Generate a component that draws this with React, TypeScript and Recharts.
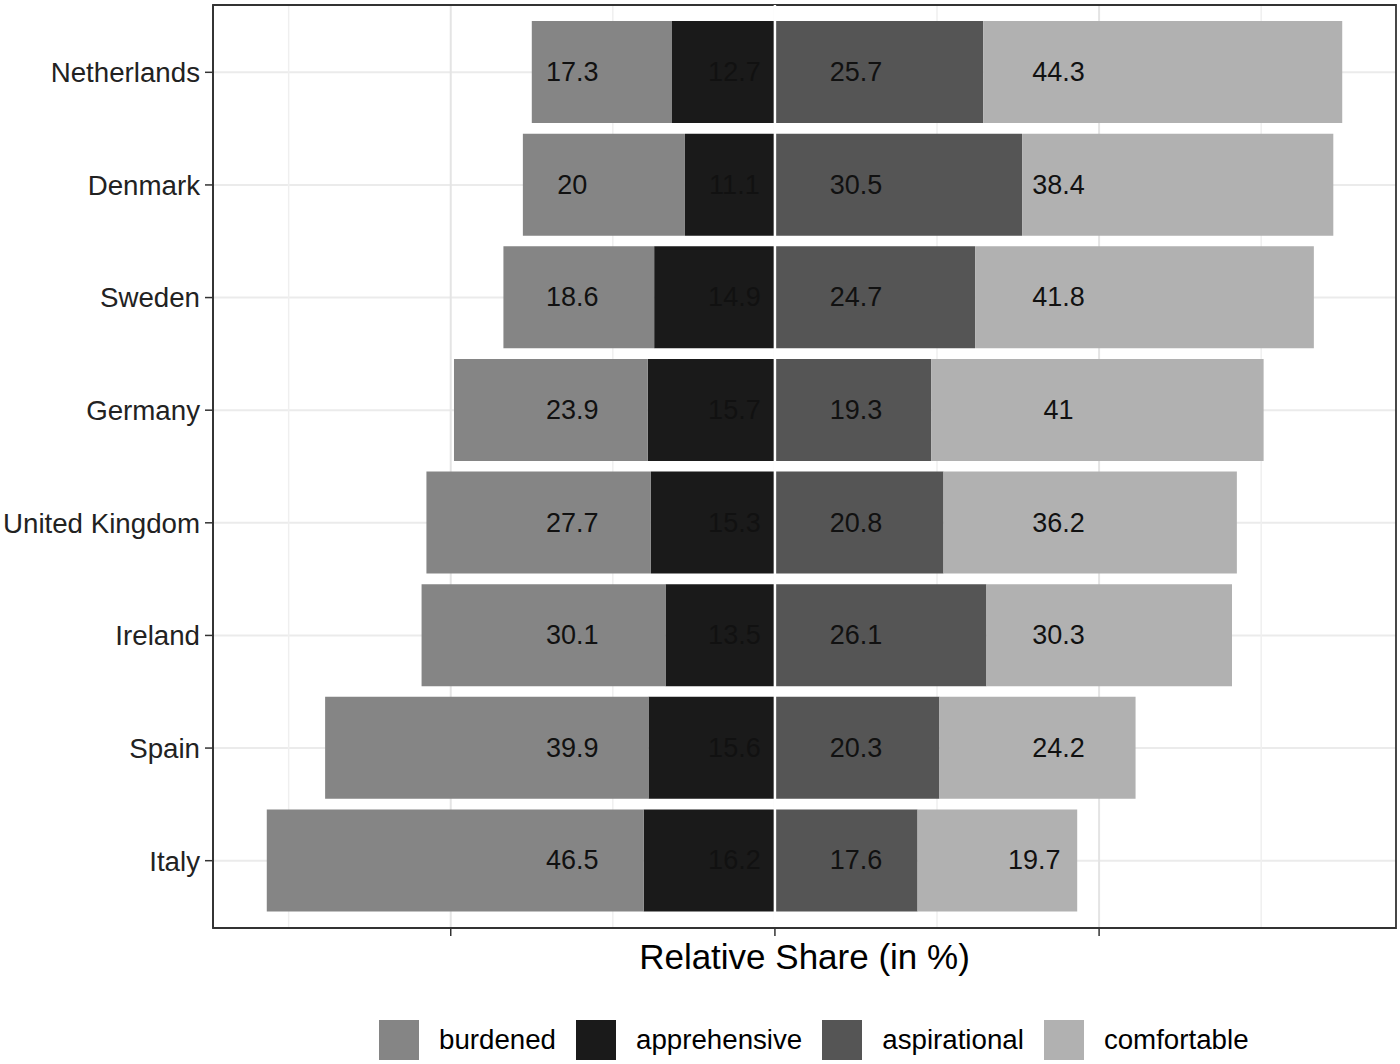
import React from 'react';
import { BarChart, Bar, XAxis, YAxis, CartesianGrid, ReferenceLine, ReferenceArea, LabelList, Legend } from 'recharts';

const countries = ['Netherlands', 'Denmark', 'Sweden', 'Germany', 'United Kingdom', 'Ireland', 'Spain', 'Italy'];
const burdened = [17.3, 20, 18.6, 23.9, 27.7, 30.1, 39.9, 46.5];
const apprehensive = [12.7, 11.1, 14.9, 15.7, 15.3, 13.5, 15.6, 16.2];
const aspirational = [25.7, 30.5, 24.7, 19.3, 20.8, 26.1, 20.3, 17.6];
const comfortable = [44.3, 38.4, 41.8, 41, 36.2, 30.3, 24.2, 19.7];

// where each value label sits, in axis units
const burdenedLabelAt = [-25, -25, -25, -25, -25, -25, -25, -25];
const apprehensiveLabelAt = [-5, -5, -5, -5, -5, -5, -5, -5];
const aspirationalLabelAt = [10, 10, 10, 10, 10, 10, 10, 10];
const comfortableLabelAt = [35, 35, 35, 35, 35, 35, 35, 32];

const majorTicks = [-40, 0, 40];
const minorTicks = [-60, -20, 20, 60];
const xDomain = [-69.335, 76.635];

const legendItems = [
  { name: 'burdened', color: '#858585' },
  { name: 'apprehensive', color: '#1a1a1a' },
  { name: 'aspirational', color: '#555555' },
  { name: 'comfortable', color: '#b1b1b1' },
];

const FONT = '"Liberation Sans", Arial, Helvetica, sans-serif';
const BORDER = '#333';

const rows = countries.map((country, i) => ({
  country,
  burdened: -burdened[i],
  apprehensive: -apprehensive[i],
  aspirational: aspirational[i],
  comfortable: comfortable[i],
}));

// data range [lo, hi] of each segment, used to place labels through the bar's own geometry
const ranges: Record<string, (i: number) => [number, number]> = {
  apprehensive: (i) => [-apprehensive[i], 0],
  burdened: (i) => [-(apprehensive[i] + burdened[i]), -apprehensive[i]],
  aspirational: (i) => [0, aspirational[i]],
  comfortable: (i) => [aspirational[i], aspirational[i] + comfortable[i]],
};

const makeLabel = (key: string, values: number[], positions: number[]) => (props: any) => {
  const vb = props.viewBox && props.viewBox.width !== undefined ? props.viewBox : props;
  const { x, y, width, height } = vb;
  const index = props.index;
  if (index === undefined || x === undefined) return null;
  const [lo, hi] = ranges[key](index);
  const px0 = Math.min(x, x + width);
  const px1 = Math.max(x, x + width);
  const ppu = (px1 - px0) / (hi - lo);
  const cx = px0 + (positions[index] - lo) * ppu;
  return (
    <text
      x={cx}
      y={y + height / 2}
      textAnchor="middle"
      dominantBaseline="central"
      fontSize={27}
      fontFamily={FONT}
      fill="#111"
    >
      {values[index]}
    </text>
  );
};

function LegendBox() {
  return (
    <div style={{ height: 60, display: 'flex', alignItems: 'flex-start', paddingLeft: 379, paddingTop: 16, boxSizing: 'border-box', fontFamily: FONT }}>
      {legendItems.map((item) => (
        <div key={item.name} style={{ display: 'flex', alignItems: 'center', marginRight: 20 }}>
          <div style={{ width: 40, height: 40, background: item.color, marginRight: 20 }} />
          <span style={{ fontSize: 27.7, color: '#000' }}>{item.name}</span>
        </div>
      ))}
    </div>
  );
}

export default function App() {
  return (
    <div style={{ position: 'absolute', left: 0, top: 0, width: 1400, height: 1064, background: '#fff' }}>
      <BarChart
        width={1400}
        height={1064}
        data={rows}
        layout="vertical"
        stackOffset="sign"
        margin={{ top: 5, right: 4, bottom: 0, left: 0 }}
        barSize={102}
      >
        <CartesianGrid vertical={false} stroke="#ebebeb" strokeWidth={2} />
        <CartesianGrid horizontal={false} verticalValues={minorTicks} stroke="#efefef" strokeWidth={1.5} />
        <CartesianGrid horizontal={false} verticalValues={majorTicks} stroke="#e4e4e4" strokeWidth={2} />
        <XAxis
          type="number"
          domain={xDomain}
          ticks={majorTicks}
          allowDataOverflow
          height={76}
          tickSize={8}
          tickLine={{ stroke: BORDER, strokeWidth: 1.5 }}
          axisLine={{ stroke: BORDER, strokeWidth: 1.8 }}
          tickFormatter={() => ''}
          label={{ value: 'Relative Share (in %)', position: 'insideTop', offset: 16, fontSize: 35, fontFamily: FONT, fill: '#000' }}
        />
        <YAxis
          type="category"
          dataKey="country"
          width={213}
          padding={{ top: 11, bottom: 11 }}
          tickSize={8}
          tickMargin={5}
          tickLine={{ stroke: BORDER, strokeWidth: 1.5 }}
          axisLine={{ stroke: BORDER, strokeWidth: 1.8 }}
          tick={{ fontSize: 27.7, fontFamily: FONT, fill: '#222' }}
        />
        <YAxis yAxisId="panel" orientation="right" type="category" dataKey="country" width={0} hide />
        <Bar dataKey="apprehensive" stackId="s" fill="#1a1a1a" isAnimationActive={false}>
          <LabelList dataKey="apprehensive" content={makeLabel('apprehensive', apprehensive, apprehensiveLabelAt)} />
        </Bar>
        <Bar dataKey="burdened" stackId="s" fill="#858585" isAnimationActive={false}>
          <LabelList dataKey="burdened" content={makeLabel('burdened', burdened, burdenedLabelAt)} />
        </Bar>
        <Bar dataKey="aspirational" stackId="s" fill="#555555" isAnimationActive={false}>
          <LabelList dataKey="aspirational" content={makeLabel('aspirational', aspirational, aspirationalLabelAt)} />
        </Bar>
        <Bar dataKey="comfortable" stackId="s" fill="#b1b1b1" isAnimationActive={false}>
          <LabelList dataKey="comfortable" content={makeLabel('comfortable', comfortable, comfortableLabelAt)} />
        </Bar>
        <ReferenceLine x={0} stroke="#fff" strokeWidth={2.5} />
        <ReferenceArea
          yAxisId="panel"
          x1={xDomain[0]}
          x2={xDomain[1]}
          fill="none"
          stroke={BORDER}
          strokeWidth={1.8}
          ifOverflow="visible"
        />
        <Legend verticalAlign="bottom" content={() => <LegendBox />} wrapperStyle={{ left: 0, width: 1400 }} />
      </BarChart>
    </div>
  );
}
